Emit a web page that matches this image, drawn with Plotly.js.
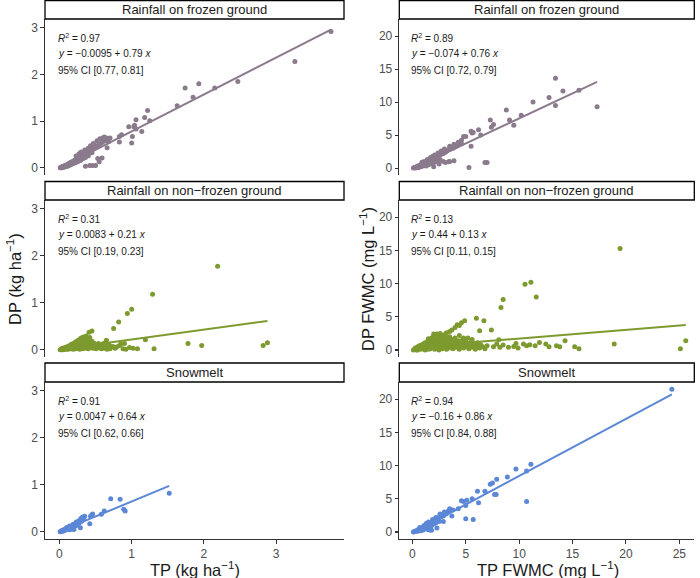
<!DOCTYPE html>
<html><head><meta charset="utf-8">
<script src="https://cdn.plot.ly/plotly-3.0.1.min.js"></script>
<style>html,body{margin:0;padding:0;background:#fff}#chart{width:700px;height:578px}</style>
</head><body><div id="chart"></div>
<script>
// Facets
const facetNames = ["Rainfall on frozen ground", "Rainfall on non\u2212frozen ground", "Snowmelt"];
const facetColors = ["#8a7a8c", "#7d9a2f", "#5b87d6"];

// Loads: [TP (kg/ha), DP (kg/ha)]
const loadFrozen = [
 [3.76,2.92],[3.26,2.28],[2.47,1.85],[2.15,1.71],[1.93,1.80],[1.85,1.51],[1.74,1.71],[1.63,1.33],
 [1.22,1.23],[1.18,1.08],[1.25,1.01],[1.06,1.03],[1.04,0.91],[0.96,0.88],[1.03,0.88],[1.06,0.83],
 [1.14,0.78],[1.01,0.67],[1.00,0.53],[0.86,0.71],[0.83,0.67],[0.83,0.55],[0.70,0.64],[0.68,0.56],
 [0.66,0.43],[0.65,0.64],[0.59,0.21],[0.55,0.13],[0.53,0.20],[0.50,0.05],[0.46,0.05],[0.42,0.05],[0.36,0.03],
 [0.01,0.00],[0.02,0.01],[0.03,0.01],[0.04,0.02],[0.05,0.03],[0.06,0.03],[0.07,0.04],[0.08,0.05],
 [0.09,0.05],[0.10,0.06],[0.11,0.07],[0.12,0.08],[0.13,0.08],[0.14,0.10],[0.15,0.10],[0.16,0.12],
 [0.17,0.11],[0.18,0.13],[0.19,0.14],[0.20,0.15],[0.21,0.14],[0.22,0.17],[0.23,0.16],[0.24,0.18],
 [0.25,0.20],[0.26,0.19],[0.27,0.22],[0.28,0.21],[0.29,0.24],[0.30,0.23],[0.31,0.26],[0.32,0.25],
 [0.33,0.28],[0.34,0.27],[0.35,0.30],[0.36,0.29],[0.38,0.32],[0.40,0.34],[0.42,0.36],[0.44,0.38],
 [0.46,0.40],[0.48,0.42],[0.50,0.45],[0.52,0.47],[0.55,0.50],[0.58,0.53],[0.60,0.56],[0.63,0.58],
 [0.05,0.01],[0.08,0.02],[0.10,0.03],[0.12,0.04],[0.15,0.06],[0.18,0.08],[0.20,0.10],[0.22,0.11],
 [0.25,0.13],[0.28,0.15],[0.30,0.17],[0.33,0.20],[0.36,0.22],[0.40,0.26],[0.45,0.32],[0.02,0.00],
 [0.03,0.00],[0.06,0.01],[0.09,0.03],[0.23,0.25],[0.27,0.30],[0.30,0.34],[0.35,0.38],[0.40,0.42],
 [0.43,0.47],[0.47,0.52],[0.52,0.58],[0.56,0.62],[0.60,0.64],[0.62,0.66],[0.44,0.35]
];
const loadNonFrozen = [
 [2.19,1.78],[1.29,1.18],[1.00,0.86],[0.94,0.77],[0.82,0.59],[0.75,0.45],[0.45,0.40],[0.41,0.37],
 [1.19,0.21],[0.65,0.20],[1.78,0.13],[1.97,0.09],[2.82,0.09],[2.88,0.15],[1.31,0.02],[1.08,0.02],
 [0.92,0.01],[0.90,0.13],[0.83,0.09],[0.79,0.06],[0.72,0.06],[0.69,0.09],[0.61,0.13],[0.56,0.07],[0.52,0.11],
 [0.01,0.00],[0.02,0.01],[0.03,0.00],[0.03,0.02],[0.04,0.01],[0.05,0.03],[0.05,0.00],[0.06,0.02],
 [0.07,0.04],[0.07,0.01],[0.08,0.03],[0.09,0.05],[0.09,0.01],[0.10,0.02],[0.10,0.06],[0.11,0.04],
 [0.12,0.07],[0.12,0.01],[0.13,0.03],[0.13,0.08],[0.14,0.05],[0.15,0.09],[0.15,0.02],[0.16,0.06],
 [0.16,0.11],[0.17,0.03],[0.17,0.08],[0.18,0.12],[0.18,0.05],[0.19,0.01],[0.19,0.09],[0.20,0.14],
 [0.20,0.04],[0.21,0.07],[0.21,0.11],[0.22,0.02],[0.22,0.16],[0.23,0.09],[0.23,0.05],[0.24,0.13],
 [0.24,0.18],[0.25,0.03],[0.25,0.08],[0.26,0.20],[0.26,0.11],[0.27,0.06],[0.27,0.15],[0.28,0.01],
 [0.28,0.22],[0.29,0.10],[0.29,0.04],[0.30,0.17],[0.30,0.25],[0.31,0.07],[0.31,0.13],[0.32,0.02],
 [0.32,0.20],[0.33,0.09],[0.33,0.27],[0.34,0.05],[0.34,0.15],[0.35,0.11],[0.35,0.23],[0.36,0.03],
 [0.36,0.18],[0.37,0.08],[0.37,0.29],[0.38,0.13],[0.38,0.05],[0.39,0.21],[0.40,0.10],[0.40,0.02],
 [0.41,0.15],[0.42,0.07],[0.42,0.26],[0.43,0.12],[0.44,0.04],[0.45,0.18],[0.46,0.09],[0.47,0.03],
 [0.48,0.14],[0.49,0.06],[0.50,0.11],[0.51,0.02],[0.52,0.08],[0.54,0.13],[0.55,0.04],[0.57,0.10],
 [0.58,0.02],[0.60,0.06],[0.62,0.03],[0.64,0.09],[0.66,0.01],[0.68,0.11],[0.70,0.02],[0.74,0.07],
 [0.77,0.03],[0.85,0.12],[0.88,0.02],[0.97,0.05],[1.02,0.03]
];
const loadSnowmelt = [
 [1.52,0.82],[0.71,0.70],[0.84,0.69],[0.89,0.48],[0.91,0.44],[0.62,0.44],[0.58,0.37],[0.45,0.36],
 [0.46,0.38],[0.43,0.33],[0.42,0.17],[0.29,0.085],[0.14,0.04],
 [0.01,0.00],[0.02,0.01],[0.03,0.02],[0.04,0.02],[0.05,0.03],[0.06,0.04],[0.07,0.04],[0.08,0.05],
 [0.09,0.06],[0.10,0.06],[0.11,0.07],[0.12,0.08],[0.13,0.09],[0.14,0.10],[0.15,0.09],[0.16,0.11],
 [0.17,0.12],[0.18,0.13],[0.19,0.12],[0.20,0.14],[0.21,0.15],[0.22,0.16],[0.23,0.15],[0.24,0.17],
 [0.25,0.18],[0.26,0.20],[0.27,0.22],[0.28,0.24],[0.29,0.26],[0.30,0.28],[0.31,0.30],[0.32,0.31],
 [0.33,0.29],[0.34,0.32],[0.35,0.33],[0.30,0.22],[0.32,0.25],[0.33,0.27],[0.31,0.24],[0.05,0.01],
 [0.08,0.03],[0.12,0.05],[0.15,0.07],[0.18,0.09],[0.20,0.11],[0.22,0.12],[0.24,0.14],[0.27,0.18],
 [0.10,0.09],[0.14,0.12],[0.19,0.16],[0.23,0.20],[0.25,0.22],[0.20,0.05],[0.17,0.06]
];

// Flow-weighted mean concentrations: [TP FWMC, DP FWMC] (mg/L)
const concFrozen = [
 [13.4,13.6],[17.3,9.3],[15.6,11.8],[14.1,11.7],[12.8,10.7],[13.4,9.5],[11.3,10.0],[10.2,8.0],
 [8.8,8.8],[9.1,7.3],[9.5,6.5],[7.3,7.3],[7.6,6.6],[7.4,6.2],[6.2,5.8],[5.5,5.6],[5.6,5.3],
 [6.4,5.0],[4.8,4.8],[5.0,4.8],[5.7,5.4],[5.5,3.3],[5.3,0.1],[6.8,0.85],[7.0,0.85],[3.9,1.1],
 [3.4,0.95],[3.5,1.0],[3.1,0.85],
 [0.1,0.0],[0.2,0.1],[0.3,0.1],[0.4,0.2],[0.5,0.3],[0.6,0.3],[0.7,0.4],[0.8,0.5],[0.9,0.5],
 [1.0,0.6],[1.1,0.7],[1.2,0.8],[1.3,0.8],[1.4,1.0],[1.5,1.0],[1.6,1.1],[1.7,1.2],[1.8,1.3],
 [1.9,1.3],[2.0,1.5],[2.1,1.5],[2.2,1.7],[2.3,1.7],[2.4,1.9],[2.5,1.9],[2.6,2.1],[2.7,2.1],
 [2.8,2.3],[2.9,2.2],[3.0,2.5],[3.1,2.4],[3.2,2.6],[3.3,2.7],[3.4,2.8],[3.6,2.9],[3.8,3.0],
 [4.0,3.2],[4.2,3.4],[4.4,3.6],[4.6,3.7],[0.5,0.1],[0.8,0.2],[1.0,0.3],[1.2,0.4],[1.5,0.5],
 [1.8,0.7],[2.0,0.8],[2.3,1.0],[2.6,1.3],[1.3,0.3],[1.6,0.6],[2.2,1.2],[0.3,0.0],[0.6,0.1],
 [1.9,1.8],[2.1,2.0],[2.4,2.3],[2.7,2.6],[3.0,2.9],[3.5,3.3],[3.9,3.6],[4.3,3.9],[4.6,4.2],
 [1.4,1.3],[1.7,1.6],[0.9,0.9],[1.1,1.0],[2.0,0.2],[2.5,0.6],[2.9,1.0]
];
const concNonFrozen = [
 [19.45,15.3],[10.55,9.9],[11.1,10.2],[11.6,8.0],[8.3,6.4],[8.5,7.6],[6.0,4.8],[6.7,4.4],
 [7.4,3.0],[6.3,2.9],[25.1,0.2],[25.6,1.4],[18.9,0.9],[15.6,0.2],[15.2,0.5],[14.3,1.4],
 [13.8,0.5],[13.5,0.65],[12.8,0.5],[12.5,0.9],[11.9,1.15],[11.5,0.65],[11.0,0.8],[10.4,0.9],
 [9.7,1.0],[8.1,1.56],[7.0,0.65],[7.6,0.5],[8.2,0.4],[8.5,0.75],[9.0,0.4],[9.5,0.55],[9.9,0.3],
 [10.7,0.65],[7.9,0.9],
 [3.5,2.8],[3.7,3.0],[4.0,3.4],[4.4,3.7],[4.6,4.1],[4.9,4.4],[4.4,2.2],[4.8,1.8],[5.2,1.8],
 [5.6,1.6],[4.2,3.8],[3.2,2.6],
 [0.2,0.1],[0.3,0.3],[0.4,0.0],[0.5,0.5],[0.6,0.2],[0.7,0.7],[0.8,0.1],[0.9,0.4],[1.0,0.9],
 [1.0,0.2],[1.1,0.6],[1.2,1.1],[1.2,0.0],[1.3,0.3],[1.4,0.8],[1.4,1.3],[1.5,0.1],[1.5,0.5],
 [1.6,1.0],[1.6,1.5],[1.7,0.2],[1.7,0.7],[1.8,1.2],[1.8,1.8],[1.9,0.4],[1.9,0.9],[2.0,1.4],
 [2.0,2.1],[2.1,0.1],[2.1,0.6],[2.2,1.1],[2.2,1.7],[2.3,2.4],[2.3,0.3],[2.4,0.8],[2.4,1.3],
 [2.5,2.0],[2.5,0.0],[2.6,0.5],[2.6,1.0],[2.7,1.6],[2.7,2.2],[2.8,0.2],[2.8,0.7],[2.9,1.2],
 [2.9,1.9],[3.0,0.4],[3.0,0.9],[3.1,1.5],[3.1,2.1],[3.2,0.1],[3.2,0.6],[3.3,1.1],[3.3,1.7],
 [3.4,0.3],[3.4,0.8],[3.5,1.3],[3.5,2.0],[3.6,0.5],[3.7,1.0],[3.7,1.6],[3.8,0.2],[3.9,0.7],
 [3.9,1.2],[4.0,1.8],[4.1,0.4],[4.2,0.9],[4.3,1.4],[4.4,0.1],[4.5,0.6],[4.6,1.1],[4.7,1.6],
 [4.8,0.3],[4.9,0.8],[5.0,1.3],[5.1,0.5],[5.2,1.0],[5.3,0.2],[5.4,0.7],[5.5,1.2],[5.6,0.4],
 [5.8,0.9],[5.9,0.1],[6.0,0.6],[6.1,1.1],[6.3,0.3],[6.4,0.8],[6.6,0.5],[6.8,0.2],[0.1,0.0],
 [0.3,0.1],[0.5,0.0],[0.6,0.4],[0.8,0.6],[1.1,0.3],[1.3,0.5],[2.0,2.4],[2.6,2.5],[3.0,2.3],[1.5,1.7]
];
const concSnowmelt = [
 [24.3,21.5],[11.1,10.2],[9.7,9.5],[10.7,9.2],[10.7,4.6],[8.9,8.3],[7.9,7.95],[7.3,7.2],
 [7.5,7.4],[7.7,5.65],[7.85,5.65],[6.8,6.15],[6.1,6.15],[6.2,4.4],[5.7,1.9],[5.0,2.0],[5.6,5.0],
 [5.1,4.8],[4.6,4.7],[4.8,4.6],[5.0,4.0],[4.3,3.5],[3.8,3.3],[3.5,3.5],[3.4,3.2],[3.1,2.9],
 [2.6,2.7],[3.7,2.4],[2.9,1.6],[2.3,0.6],[1.8,0.25],
 [0.1,0.0],[0.2,0.1],[0.3,0.1],[0.4,0.2],[0.5,0.3],[0.6,0.4],[0.7,0.4],[0.8,0.5],[0.9,0.6],
 [1.0,0.7],[1.1,0.8],[1.2,0.9],[1.3,0.9],[1.4,1.1],[1.5,1.2],[1.6,1.2],[1.7,1.4],[1.8,1.5],
 [1.9,1.5],[2.0,1.7],[2.1,1.8],[2.2,1.8],[2.3,2.0],[2.4,2.1],[2.5,2.1],[2.6,2.3],[2.7,2.3],
 [2.8,2.5],[2.9,2.4],[3.0,2.6],[3.2,2.8],[3.3,3.0],[3.4,3.1],[1.0,0.3],[1.2,0.5],[1.5,0.7],
 [1.8,1.0],[2.0,1.2],[2.2,1.4],[0.8,0.2],[0.5,0.1],[1.4,0.4],[1.7,0.8],[2.5,1.6],[1.1,1.0],
 [1.5,1.5],[1.9,1.9],[2.2,2.2],[0.7,0.7],[1.3,1.3],[2.6,2.6],[3.0,3.0],[3.5,3.3],[1.6,0.3]
];

// Fit statistics (from the labels)
const r2Load = ["0.97", "0.31", "0.91"];
const interceptLoad = [-0.0095, 0.0083, 0.0047];
const slopeLoad = [0.79, 0.21, 0.64];
const ciLoad = ["[0.77, 0.81]", "[0.19, 0.23]", "[0.62, 0.66]"];
const r2Conc = ["0.89", "0.13", "0.94"];
const interceptConc = [-0.074, 0.44, -0.16];
const slopeConc = [0.76, 0.13, 0.86];
const ciConc = ["[0.72, 0.79]", "[0.11, 0.15]", "[0.84, 0.88]"];

// Tick labels
const loadTicks = [0, 1, 2, 3];
const concYTicks = [0, 5, 10, 15, 20];
const concXTicks = [0, 5, 10, 15, 20, 25];

const W = 700, H = 578;
const FONT = "Liberation Sans, Arial, sans-serif";
const colPx = [[45, 344], [399.3, 694.3]];
const rowPx = [[19, 175], [200, 357], [382, 539]];
const stripPx = [[0.5, 19], [181.5, 200], [363, 382]];
const py = p => 1 - p / H, pxx = p => p / W;

const loadSets = [loadFrozen, loadNonFrozen, loadSnowmelt];
const concSets = [concFrozen, concNonFrozen, concSnowmelt];

const traces = [], annotations = [], shapes = [];
const layout = {
  width: W, height: H, margin: {l: 0, r: 0, t: 0, b: 0},
  paper_bgcolor: "#fff", plot_bgcolor: "#fff", showlegend: false,
  font: {family: FONT, color: "#1a1a1a"}
};
const fmt = v => (v < 0 ? "\u2212" : "") + Math.abs(v);

for (let row = 0; row < 3; row++) {
  for (let col = 0; col < 2; col++) {
    const k = row * 2 + col + 1;
    const xa = "x" + k, ya = "y" + k;
    const data = col === 0 ? loadSets[row] : concSets[row];
    const b0 = col === 0 ? interceptLoad[row] : interceptConc[row];
    const b1 = col === 0 ? slopeLoad[row] : slopeConc[row];
    const r2 = col === 0 ? r2Load[row] : r2Conc[row];
    const ci = col === 0 ? ciLoad[row] : ciConc[row];
    const color = facetColors[row];
    const xs = data.map(d => d[0]), ys = data.map(d => d[1]);
    traces.push({type: "scatter", mode: "markers", x: xs, y: ys, xaxis: xa, yaxis: ya,
      marker: {color: color, size: 5, line: {width: 0}}, hoverinfo: "skip"});
    const xmin = Math.min(...xs), xmax = Math.max(...xs);
    traces.push({type: "scatter", mode: "lines", x: [xmin, xmax], y: [b0 + b1 * xmin, b0 + b1 * xmax],
      xaxis: xa, yaxis: ya, line: {color: color, width: 2}, hoverinfo: "skip"});

    const bottom = row === 2;
    layout["xaxis" + k] = {
      domain: [pxx(colPx[col][0]), pxx(colPx[col][1])], anchor: ya,
      range: col === 0 ? [-0.2, 3.94] : [-1.22, 26.4],
      showgrid: false, zeroline: false,
      showline: bottom, linecolor: "#333", linewidth: 1.1,
      ticks: bottom ? "outside" : "", ticklen: 3.5, tickcolor: "#333", tickwidth: 1.1,
      showticklabels: bottom, tickmode: "array",
      tickvals: col === 0 ? loadTicks : concXTicks,
      tickfont: {family: FONT, size: 12, color: "#4d4d4d"}
    };
    layout["yaxis" + k] = {
      domain: [py(rowPx[row][1]), py(rowPx[row][0])], anchor: xa,
      range: col === 0 ? [-0.155, 3.19] : [-1.05, 22.6],
      showgrid: false, zeroline: false,
      showline: true, linecolor: "#333", linewidth: 1.1,
      ticks: "outside", ticklen: 3.5, tickcolor: "#333", tickwidth: 1.1,
      tickmode: "array", tickvals: col === 0 ? loadTicks : concYTicks,
      tickfont: {family: FONT, size: 12, color: "#4d4d4d"}
    };

    // strip
    shapes.push({type: "rect", xref: "paper", yref: "paper",
      x0: pxx(colPx[col][0]), x1: pxx(colPx[col][1]),
      y0: py(stripPx[row][1]), y1: py(stripPx[row][0]),
      line: {color: "#000", width: 1.3}, fillcolor: "#fff"});
    annotations.push({xref: "paper", yref: "paper",
      x: pxx((colPx[col][0] + colPx[col][1]) / 2), y: py((stripPx[row][0] + stripPx[row][1]) / 2),
      text: facetNames[row], showarrow: false, xanchor: "center", yanchor: "middle",
      font: {family: FONT, size: 13, color: "#1a1a1a"}});

    // stats text
    const lines = [
      "<i>R</i><sup>2</sup> = " + r2,
      "<i>y</i> = " + fmt(b0) + " + " + b1 + " <i>x</i>",
      "95% CI " + ci
    ];
    const ypos = [0.876, 0.78, 0.672];
    lines.forEach((t, i) => annotations.push({xref: xa, yref: ya + " domain", x: 0, y: ypos[i],
      text: t, showarrow: false, xanchor: "left", yanchor: "middle", borderpad: 0, xshift: -2,
      font: {family: FONT, size: 10, color: "#1a1a1a"}}));
  }
}

// axis titles
const titleFont = {family: FONT, size: 16.5, color: "#1a1a1a"};
const axTitles = [
  {x: 14, y: 279, angle: -90, text: "DP (kg ha<sup>\u22121</sup>)"},
  {x: 367, y: 279, angle: -90, text: "DP FWMC (mg L<sup>\u22121</sup>)"},
  {x: 195, y: 569, angle: 0, text: "TP (kg ha<sup>\u22121</sup>)"},
  {x: 548, y: 569, angle: 0, text: "TP FWMC (mg L<sup>\u22121</sup>)"}
];
axTitles.forEach(t => annotations.push({xref: "paper", yref: "paper", x: pxx(t.x), y: py(t.y),
  textangle: t.angle, text: t.text, showarrow: false, xanchor: "center", yanchor: "middle",
  font: titleFont}));

layout.annotations = annotations;
layout.shapes = shapes;
Plotly.newPlot("chart", traces, layout, {staticPlot: true, displayModeBar: false});
</script>
</body></html>
